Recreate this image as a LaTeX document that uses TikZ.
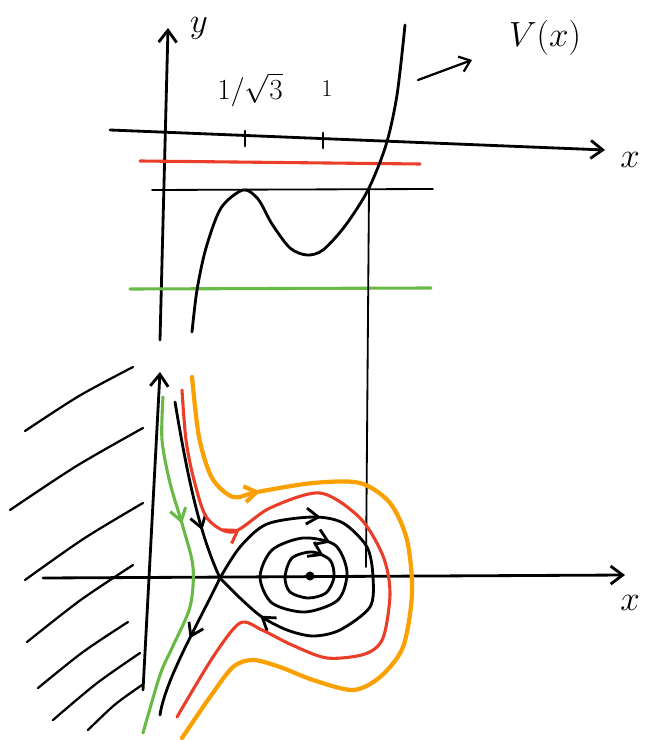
\documentclass[tikz,border=0pt]{standalone}
\usepackage{xcolor}
\usepackage{tikz}
\usepackage{amsmath}
\usetikzlibrary{arrows.meta, positioning, calc, decorations.markings}
\definecolor{orbred}{RGB}{235, 62, 40}
\definecolor{orborange}{RGB}{250, 160, 0}
\definecolor{orbgreen}{RGB}{105, 185, 70}

\begin{document}
\begin{tikzpicture}[
  x=0.025cm, y=-0.025cm,
  line cap=round, line join=round,
  axis/.style={line width=2pt, -{Straight Barb[length=3mm,width=4.5mm]}},
  thin/.style={line width=1.3pt},
  curve/.style={line width=2pt},
  orb/.style={line width=2.2pt},
  lbl/.style={font=\fontsize{30}{34}\selectfont},
  arr/.style={postaction={decorate, decoration={markings,
      mark=at position #1 with {\arrow{Straight Barb[length=3mm,width=4mm]}}}}},
]
  \useasboundingbox (0,0) rectangle (648,740);

  % Potential plot
  \coordinate (vo) at (160,340);
  \draw[axis] (vo) -- (168,28) coordinate (vy);
  \node[lbl, right=12pt of vy] (ylab) {$y$};
  \draw[axis] (110,130) -- (605,150) coordinate (vx);
  \node[lbl] (xlab) at (630,160) {$x$};

  % Ticks
  \draw[curve] (245,131) -- (245,146) coordinate (t1);
  \draw[curve] (323,133) -- (323,148) coordinate (t2);
  \node[font=\fontsize{22}{24}\selectfont] (t1lab) at (250,90) {$1/\sqrt{3}$};
  \node[font=\fontsize{16}{18}\selectfont] (t2lab) at (327,89) {$1$};

  % Energy levels
  \draw[orbred, orb] (140,161) -- (420,164);
  \draw[thin] (152,190) -- (433,189);
  \draw[orbgreen, orb] (130,289) -- (431,288);

  % V(x)
  \draw[curve] plot[smooth] coordinates {(192,332) (197,290) (206,248) (221,208)
    (243,190) (258,199) (272,224) (290,248) (307,255) (323,250) (345,226)
    (368,190) (386,145) (397,95) (405,25)};
  \node[lbl] (vlab) at (545,38) {$V(x)$};
  \draw[line width=1.6pt, -{Straight Barb[length=2.5mm,width=4mm]}] (418,80) -- (472,60);

  % Projection down
  \draw[thin] (369,190) -- (366,567);

  % Phase portrait
  \coordinate (po) at (143,690);
  \draw[axis] (po) -- (160,372);
  \draw[axis] (43,578) -- (625,575) coordinate (px);
  \node[lbl] (pxlab) at (630,603) {$x$};

  % Forbidden region
  \foreach \a/\b/\c/\d in {25/431/133/367, 10/510/143/428, 25/580/143/503,
      27/642/133/565, 38/688/128/622, 53/720/140/653, 88/730/142/685}
    \draw[line width=1.6pt] plot[smooth] coordinates {(\a,\b) ($(\a,\b)!0.5!(\c,\d)+(0,-3)$) (\c,\d)};

  \coordinate (saddle) at (220,578);
  \coordinate (centre) at (310,576);
  \fill (centre) circle (4.5);

  % Separatrices
  \draw[curve, arr=0.72] (175,402) .. controls (188,480) and (200,535) .. (saddle);
  \draw[curve, arr=0.45] (saddle) .. controls (200,620) and (165,680) .. (160,715);
  \draw[curve, arr=0.3, arr=0.87] plot[smooth] coordinates {(saddle) (240,547) (267,524)
    (313,517) (343,523) (367,547) (373,577) (370,607) (340,630) (313,636) (287,630)
    (262,617) (240,598) (saddle)};

  % Closed orbits
  \draw[curve, arr=0.24] plot[smooth cycle] coordinates {(260,577) (272,550) (303,538)
    (335,545) (347,572) (338,600) (305,612) (272,603)};
  \draw[curve, arr=0.22] plot[smooth cycle] coordinates {(285,577) (292,558) (312,552)
    (330,560) (334,577) (326,593) (308,598) (290,592)};

  % Red orbit
  \draw[orbred, orb, arr=0.24] plot[smooth] coordinates {(182,390) (186,440) (194,480)
    (207,518) (233,532) (270,508) (320,493) (360,518) (383,556) (390,593) (383,638)
    (365,654) (327,658) (292,645) (262,630) (240,623) (213,657) (177,717)};

  % Orange orbit
  \draw[orborange, orb, line width=3pt, arr=0.22] plot[smooth] coordinates {(192,377)
    (199,437) (212,478) (233,497) (257,492) (313,483) (360,483) (390,503) (407,540)
    (412,593) (403,647) (380,677) (353,690) (313,680) (280,667) (253,660) (233,667)
    (210,697) (182,738)};

  % Green orbit
  \draw[orbgreen, orb, arr=0.37] plot[smooth] coordinates {(163,397) (162,440) (170,483)
    (183,527) (193,567) (190,607) (172,648) (160,675) (143,733)};
\end{tikzpicture}
\end{document}
